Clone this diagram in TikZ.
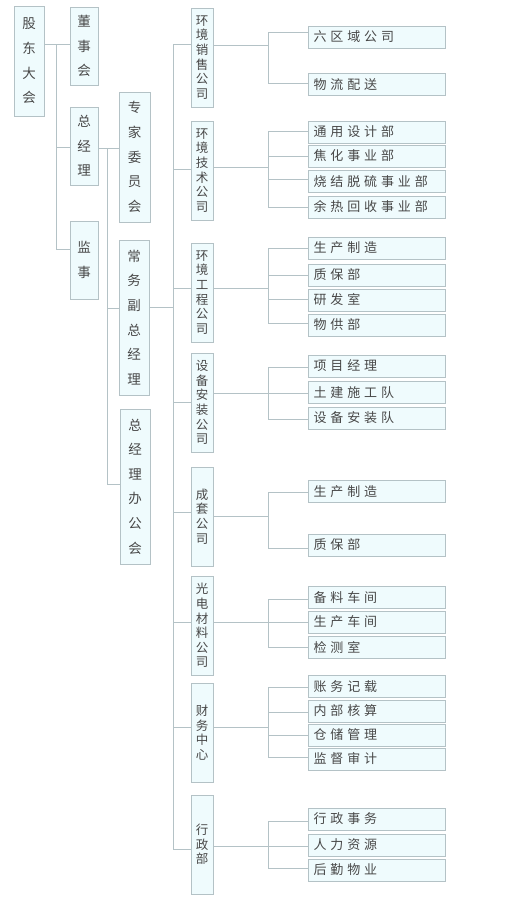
\documentclass[tikz,border=0pt]{standalone}
\usepackage{fontspec}
\newfontfamily\cjk{Noto Sans CJK SC}
\newfontfamily\cjkwide[LetterSpace=30]{Noto Sans CJK SC}
\definecolor{boxfill}{RGB}{239,251,253}
\definecolor{boxline}{RGB}{180,194,198}
\definecolor{boxtext}{RGB}{72,72,72}

\begin{document}
\begin{tikzpicture}[x=1pt, y=-1pt,
  headbox/.style={draw=boxline, fill=boxfill, line width=0.9pt, text=boxtext,
                  inner sep=0pt, align=center,
                  font=\cjk\fontsize{13.5pt}{24.6pt}\selectfont},
  cobox/.style={headbox, minimum width=22pt, minimum height=99pt,
                font=\cjk\fontsize{12.5pt}{14.6pt}\selectfont},
  subbox/.style={headbox, minimum width=137pt, minimum height=22pt,
                 inner xsep=5.5pt, text width=126pt, align=left,
                 font=\cjkwide\fontsize{13pt}{14pt}\selectfont},
  link/.style={draw=boxline, line width=0.9pt}]

\useasboundingbox (0,0) rectangle (520,900);

% first three columns
\node[headbox, minimum width=30pt, minimum height=110pt]
(gd) at (29, 61) {股\\东\\大\\会};
\node[headbox, minimum width=28pt, minimum height=78pt]
(dsh) at (84, 46) {董\\事\\会};
\node[headbox, minimum width=28pt, minimum height=78pt]
(zjl) at (84, 146) {总\\经\\理};
\node[headbox, minimum width=28pt, minimum height=78pt]
(js) at (84, 260) {监\\事};
\node[headbox, minimum width=31pt, minimum height=130pt]
(zjwyh) at (134.5, 157) {专\\家\\委\\员\\会};
\node[headbox, minimum width=30pt, minimum height=155pt]
(cwfz) at (134, 317.5) {常\\务\\副\\总\\经\\理};
\node[headbox, minimum width=30pt, minimum height=155pt]
(zbg) at (135, 486.5) {总\\经\\理\\办\\公\\会};

\coordinate (trunkA) at (56, 44);
\coordinate (trunkB) at (107, 148);
\coordinate (trunkC) at (173, 44);

\draw[link] (gd.east |- trunkA) -- (dsh.west |- trunkA);
\draw[link] (trunkA) |- (zjl.west |- 0, 147);
\draw[link] (trunkA) |- (js.west |- 0, 249);

\draw[link] (zjl.east |- trunkB) -- (zjwyh.west |- trunkB);
\draw[link] (trunkB) |- (cwfz.west |- 0, 308);
\draw[link] (trunkB) |- (zbg.west |- 0, 484);

\draw[link] (cwfz.east |- 0, 307) -- (trunkC |- 0, 307);
\draw[link] (trunkC) -- (trunkC |- 0, 849);

% companies
\node[cobox] (c1) at (202, 57.5) {环\\境\\销\\售\\公\\司};
\node[cobox] (c2) at (202, 170.5) {环\\境\\技\\术\\公\\司};
\node[cobox] (c3) at (202, 292.5) {环\\境\\工\\程\\公\\司};
\node[cobox] (c4) at (202, 402.5) {设\\备\\安\\装\\公\\司};
\node[cobox] (c5) at (202, 516.5) {成\\套\\公\\司};
\node[cobox] (c6) at (202, 625.5) {光\\电\\材\\料\\公\\司};
\node[cobox] (c7) at (202, 732.5) {财\\务\\中\\心};
\node[cobox] (c8) at (202, 844.5) {行\\政\\部};

\foreach \co/\ly/\ry in {c1/44/45, c2/169/167, c3/288/288, c4/402/393,
                         c5/512/516, c6/622/622, c7/727/727, c8/849/846} {
  \draw[link] (trunkC |- 0, \ly) -- (\co.west |- 0, \ly);
  \draw[link] (\co.east |- 0, \ry) -- (268, \ry);
}

% departments
\foreach \kid/\cy/\sy/\txt in {
    k11/37/32/六区域公司, k12/84.5/83/物流配送,
    k21/132/131/通用设计部, k22/156/156/焦化事业部,
    k23/181.5/179/烧结脱硫事业部, k24/207/207/余热回收事业部,
    k31/248/248/生产制造, k32/275/275/质保部,
    k33/300/299/研发室, k34/325/323/物供部,
    k41/366/367/项目经理, k42/392.5/393/土建施工队, k43/418/419/设备安装队,
    k51/491.5/492/生产制造, k52/545/548/质保部,
    k61/597.5/599/备料车间, k62/622/622/生产车间, k63/647/647/检测室,
    k71/686.5/687/账务记载, k72/711/712/内部核算,
    k73/735/735/仓储管理, k74/759/757/监督审计,
    k81/819/821/行政事务, k82/845/846/人力资源, k83/870/868/后勤物业} {
  \node[subbox] (\kid) at (376.5, \cy) {\txt};
  \draw[link] (268, \sy) -- (\kid.west |- 0, \sy);
}

\foreach \top/\bot in {32/83, 131/207, 248/323, 367/419,
                       492/548, 599/647, 687/757, 821/868}
  \draw[link] (268, \top) -- (268, \bot);

\end{tikzpicture}
\end{document}
